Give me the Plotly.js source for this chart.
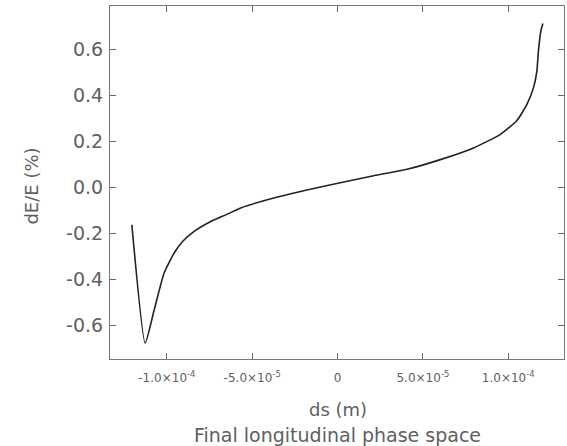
<!DOCTYPE html>
<html>
<head>
<meta charset="utf-8">
<script src="https://cdn.plot.ly/plotly-3.0.1.min.js"></script>
<style>
html,body{margin:0;padding:0;background:#fff;}
#chart{width:567px;height:446px;}
</style>
</head>
<body>
<div id="chart"></div>
<script>
// ds (m)
var ds = [-1.205e-4, -1.127e-4, -1.074e-4, -1.016e-4, -0.957e-4, -0.908e-4, -0.840e-4, -0.743e-4,
          -0.645e-4, -0.567e-4, -0.373e-4, -0.080e-4, 0.212e-4, 0.408e-4, 0.602e-4, 0.797e-4,
          0.953e-4, 1.051e-4, 1.109e-4, 1.148e-4, 1.168e-4, 1.177e-4, 1.191e-4, 1.203e-4];
// dE/E (%)
var dE = [-0.161, -0.676, -0.531, -0.371, -0.284, -0.234, -0.190, -0.147,
          -0.115, -0.088, -0.045, 0.006, 0.052, 0.080, 0.122, 0.173,
          0.231, 0.292, 0.361, 0.434, 0.506, 0.593, 0.680, 0.714];

var xTickVals = [-1.0e-4, -5.0e-5, 0, 5.0e-5, 1.0e-4];
var xTickText = ['-1.0×10<sup>-4</sup>', '-5.0×10<sup>-5</sup>', '0', '5.0×10<sup>-5</sup>', '1.0×10<sup>-4</sup>'];
var yTickVals = [-0.6, -0.4, -0.2, 0.0, 0.2, 0.4, 0.6];
var yTickText = ['-0.6', '-0.4', '-0.2', '0.0', '0.2', '0.4', '0.6'];

var trace = {
  x: ds, y: dE, type: 'scatter', mode: 'lines',
  line: {color: '#222', width: 1.6, shape: 'spline', smoothing: 0.5},
  hoverinfo: 'none'
};

var txt = '#606060';
var layout = {
  width: 567, height: 446,
  margin: {l: 110, r: 3, t: 6, b: 87},
  paper_bgcolor: '#fff', plot_bgcolor: '#fff',
  showlegend: false,
  font: {family: 'DejaVu Sans, sans-serif', color: txt},
  xaxis: {
    range: [-1.333e-4, 1.327e-4],
    tickmode: 'array', tickvals: xTickVals, ticktext: xTickText,
    ticks: 'inside', ticklen: 6, tickcolor: '#666', tickwidth: 1,
    showline: true, linecolor: '#777', linewidth: 1, mirror: 'ticks',
    showgrid: false, zeroline: false,
    ticklabelstandoff: 8,
    tickfont: {size: 12, color: txt}
  },
  yaxis: {
    range: [-0.745, 0.79],
    tickmode: 'array', tickvals: yTickVals, ticktext: yTickText,
    ticks: 'inside', ticklen: 6, tickcolor: '#666', tickwidth: 1,
    showline: true, linecolor: '#777', linewidth: 1, mirror: 'ticks',
    showgrid: false, zeroline: false,
    ticklabelstandoff: 2,
    tickfont: {size: 19, color: txt}
  },
  annotations: [
    {text: 'dE/E (%)', xref: 'paper', yref: 'paper', x: -0.175, y: 0.49, textangle: -90,
     showarrow: false, xanchor: 'center', yanchor: 'middle',
     font: {size: 18, color: txt}},
    {text: 'ds (m)', xref: 'paper', yref: 'paper', x: 0.502, y: -0.143, showarrow: false,
     xanchor: 'center', yanchor: 'middle', font: {size: 18, color: txt}},
    {text: 'Final longitudinal phase space', xref: 'paper', yref: 'paper', x: 0.502, y: -0.214, showarrow: false,
     xanchor: 'center', yanchor: 'middle', font: {size: 19, color: txt}}
  ]
};

Plotly.newPlot('chart', [trace], layout, {displayModeBar: false, staticPlot: true});
</script>
</body>
</html>
